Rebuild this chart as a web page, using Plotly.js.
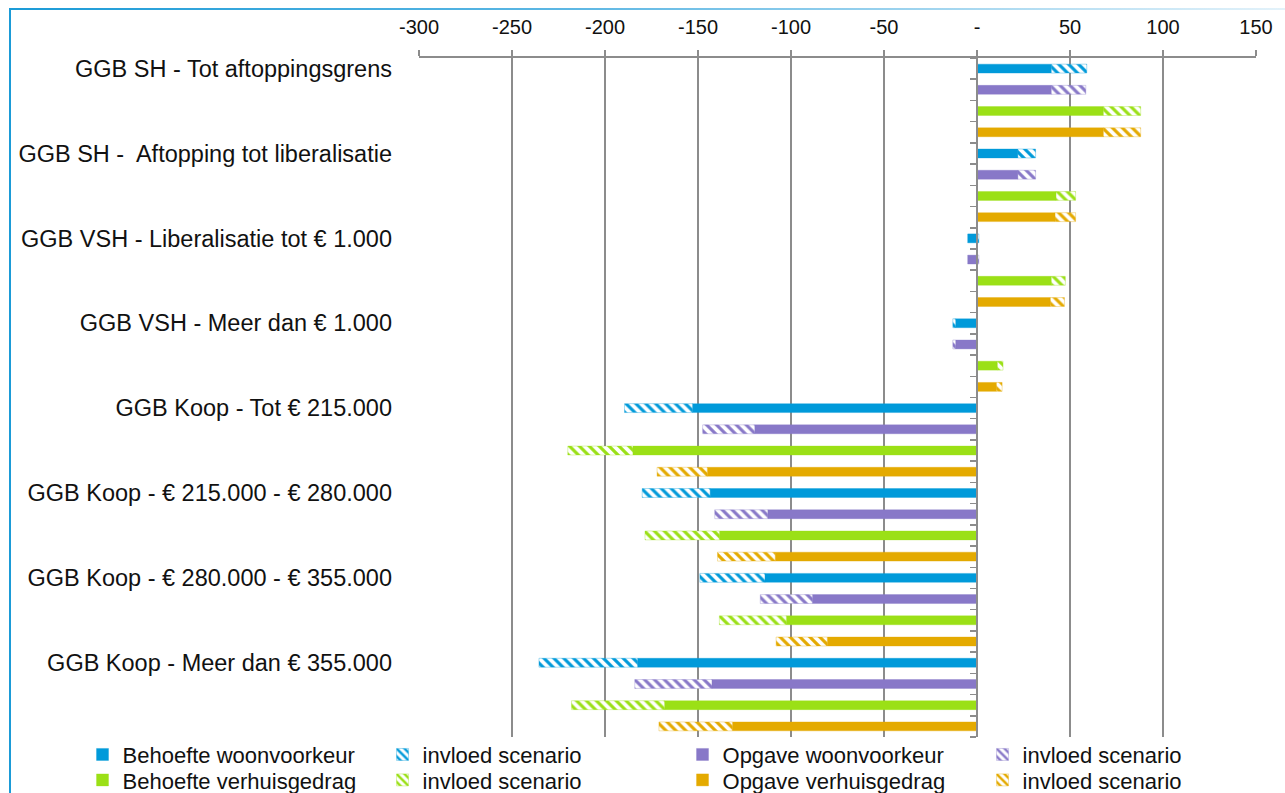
<!DOCTYPE html>
<html>
<head>
<meta charset="utf-8">
<script src="https://cdn.plot.ly/plotly-3.0.1.min.js"></script>
<style>
  html, body { margin: 0; padding: 0; background: #fff; }
  #wrap { position: relative; width: 1285px; height: 793px; overflow: hidden; }
  #chart { position: absolute; left: 0; top: 0; width: 1285px; height: 793px; }
  #frameTop { position: absolute; left: 9px; top: 8px; width: 1276px; height: 2px;
    background: linear-gradient(to right, #1b9bd7 0%, #5fb8e4 45%, #e3f2fa 100%); }
  #frameLeft { position: absolute; left: 9px; top: 8px; width: 2px; height: 785px; background: #1b9bd7; }
</style>
</head>
<body>
<div id="wrap">
  <div id="chart"></div>
  <div id="frameTop"></div>
  <div id="frameLeft"></div>
</div>
<script>
// ---- data ----
const categories = [
  "GGB SH - Tot aftoppingsgrens",
  "GGB SH -  Aftopping tot liberalisatie",
  "GGB VSH - Liberalisatie tot € 1.000",
  "GGB VSH - Meer dan € 1.000",
  "GGB Koop - Tot € 215.000",
  "GGB Koop - € 215.000 - € 280.000",
  "GGB Koop - € 280.000 - € 355.000",
  "GGB Koop - Meer dan € 355.000"
];
const seriesNames = ["Behoefte woonvoorkeur", "Opgave woonvoorkeur", "Behoefte verhuisgedrag", "Opgave verhuisgedrag"];
const scenarioName = "invloed scenario";

const behoefteWoonvoorkeur     = [40, 22, -5, -11.5, -153, -143.5, -114, -182.5];
const behoefteWoonvoorkeurScen = [19, 9.5, 1, -1.5, -36.5, -36.5, -35, -53];
const opgaveWoonvoorkeur       = [40, 22, -5, -11.5, -119.5, -112.5, -88.5, -142.5];
const opgaveWoonvoorkeurScen   = [18.5, 9.5, 1, -1.5, -28, -28.5, -28, -41.5];
const behoefteVerhuisgedrag    = [68, 42.5, 40, 11, -185, -138.5, -102.5, -168];
const behoefteVerhuisgedragScen= [20, 10.5, 7.5, 3, -35, -40, -36, -50];
const opgaveVerhuisgedrag      = [68, 42, 39.5, 10.5, -145, -108.5, -80.5, -131.5];
const opgaveVerhuisgedragScen  = [20, 11, 7.5, 3, -27, -31, -27.5, -39.5];

const xTickVals = [-300, -250, -200, -150, -100, -50, 0, 50, 100, 150];
const xTickText = ["-300", "-250", "-200", "-150", "-100", "-50", "-", "50", "100", "150"];

// ---- styling ----
const colors = ["#009ADA", "#8878C8", "#9BE016", "#E4AA00"];
const lineColors = ["rgba(0,154,218,0.35)", "rgba(136,120,200,0.35)", "rgba(155,224,22,0.35)", "rgba(228,170,0,0.35)"];
const legendOf = ["legend", "legend", "legend2", "legend2"];
const FONT = "'Liberation Sans', Arial, sans-serif";

const solids = [behoefteWoonvoorkeur, opgaveWoonvoorkeur, behoefteVerhuisgedrag, opgaveVerhuisgedrag];
const scens = [behoefteWoonvoorkeurScen, opgaveWoonvoorkeurScen, behoefteVerhuisgedragScen, opgaveVerhuisgedragScen];
const nS = seriesNames.length;
const nSlots = categories.length * nS;

const traces = [];
for (let s = 0; s < nS; s++) {
  const ys = categories.map((c, g) => g * nS + s);
  traces.push({
    type: "bar", orientation: "h", name: seriesNames[s], legend: legendOf[s],
    x: solids[s], y: ys, width: 0.42,
    marker: { color: colors[s], line: { color: lineColors[s], width: 1 } },
    hoverinfo: "x+name"
  });
  traces.push({
    type: "bar", orientation: "h", name: scenarioName, legend: legendOf[s],
    x: scens[s], y: ys, width: 0.42,
    marker: {
      color: colors[s],
      line: { color: lineColors[s], width: 1 },
      pattern: { shape: "\\", fgcolor: colors[s], bgcolor: "#ffffff", fillmode: "replace", size: 7, solidity: 0.45 }
    },
    hoverinfo: "x+name"
  });
}
// invisible trace to anchor the category axis drawn at zero
traces.push({ type: "scatter", x: [], y: [], yaxis: "y2", showlegend: false, hoverinfo: "skip" });

const xRange = [-300, 150];
const yRange = [nSlots - 0.5, -0.5];
const boundaryTicks = [];
for (let i = 0; i <= nSlots; i++) boundaryTicks.push(i - 0.5);

const legendBase = {
  orientation: "h", x: -0.402, xanchor: "left", yanchor: "middle",
  entrywidth: 255, entrywidthmode: "pixels", traceorder: "normal",
  font: { family: FONT, size: 22, color: "#111" }, bgcolor: "rgba(0,0,0,0)",
  itemclick: false, itemdoubleclick: false
};

const layout = {
  width: 1285, height: 793,
  margin: { l: 419, r: 29, t: 58, b: 56, autoexpand: false },
  paper_bgcolor: "rgba(0,0,0,0)", plot_bgcolor: "rgba(0,0,0,0)",
  barmode: "relative",
  font: { family: FONT, size: 21, color: "#111" },
  showlegend: true,
  xaxis: {
    side: "top", range: xRange, tickvals: xTickVals, ticktext: xTickText,
    showgrid: true, gridcolor: "#8c8c8c", gridwidth: 2,
    zeroline: false, showline: true, linecolor: "#8c8c8c", linewidth: 2,
    ticks: "outside", ticklen: 6, tickwidth: 1.5, tickcolor: "#8c8c8c",
    tickfont: { family: FONT, size: 20, color: "#111" },
    ticklabelstandoff: 8, fixedrange: true
  },
  yaxis: {
    range: yRange, tickvals: categories.map((c, g) => g * nS), ticktext: categories,
    showgrid: false, zeroline: false, showline: false, ticks: "",
    tickfont: { family: FONT, size: 23.5, color: "#111" },
    ticklabelstandoff: 26, fixedrange: true
  },
  yaxis2: {
    overlaying: "y", matches: "y", anchor: "free", side: "left",
    position: (0 - xRange[0]) / (xRange[1] - xRange[0]),
    range: yRange, tickvals: boundaryTicks, showticklabels: false,
    showgrid: false, zeroline: false, showline: true, linecolor: "#8c8c8c", linewidth: 2,
    ticks: "outside", ticklen: 6, tickwidth: 1.5, tickcolor: "#8c8c8c", fixedrange: true
  },
  legend: Object.assign({}, legendBase, { y: -0.026 }),
  legend2: Object.assign({}, legendBase, { y: -0.0635 })
};

Plotly.newPlot("chart", traces, layout, { displayModeBar: false, staticPlot: true });
</script>
</body>
</html>
